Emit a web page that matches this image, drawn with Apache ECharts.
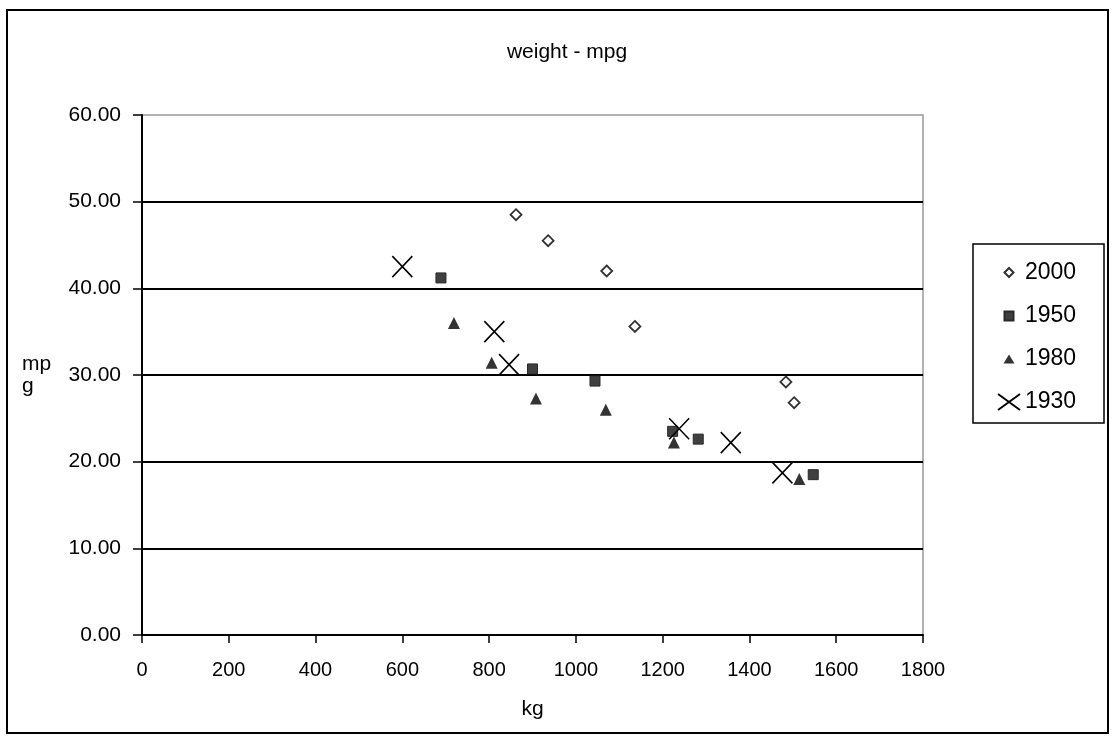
<!DOCTYPE html>
<html>
<head>
<meta charset="utf-8">
<script src="https://cdn.jsdelivr.net/npm/echarts@6/dist/echarts.min.js"></script>
<style>
html,body{margin:0;padding:0;background:#fff;}
#chart{width:1115px;height:736px;}
</style>
</head>
<body>
<div id="chart"></div>
<script>
// ---- data (weight kg, mpg) ----
var seriesNames = ['2000', '1950', '1980', '1930'];
var s2000 = [[862, 48.5], [936, 45.5], [1071, 42.0], [1136, 35.6], [1484, 29.2], [1503, 26.8]];
var s1950 = [[689, 41.2], [900, 30.7], [1044, 29.3], [1223, 23.5], [1282, 22.6], [1547, 18.5]];
var s1980 = [[719, 36.0], [806, 31.4], [908, 27.3], [1069, 26.0], [1226, 22.2], [1515, 18.0]];
var s1930 = [[600, 42.5], [812, 35.0], [846, 31.2], [1238, 23.8], [1357, 22.2], [1476, 18.7]];
var titleText = 'weight - mpg';
var xName = 'kg';
var yName = 'mp\ng';

var FONT = '"Liberation Sans", Arial, sans-serif';
var chart = echarts.init(document.getElementById('chart'), null, {renderer: 'canvas'});

var xIcon = 'path://M0,0L20,21M20,0L0,21';
var legendIcons = {
  '2000': 'path://M0,0M22,22M6.5,11L11,6.5L15.5,11L11,15.5Z',
  '1950': 'path://M0,0M22,22M6.5,6.5L15.5,6.5L15.5,15.5L6.5,15.5Z',
  '1980': 'path://M0,0M22,22M11,6.5L16.5,15.5L5.5,15.5Z',
  '1930': 'path://M0,0M22,22M0,3L22,19M22,3L0,19'
};

var option = {
  animation: false,
  backgroundColor: '#fff',
  title: {
    text: titleText,
    left: 562,
    textAlign: 'center',
    top: 37,
    textStyle: {fontFamily: FONT, fontSize: 21, fontWeight: 'normal', color: '#000'}
  },
  grid: {
    left: 142, right: 192, top: 115, bottom: 101,
    show: true, borderColor: '#999', borderWidth: 1.5, backgroundColor: 'transparent'
  },
  legend: {
    orient: 'vertical',
    left: 997,
    top: 260.5,
    padding: 0,
    itemWidth: 22,
    itemHeight: 22,
    itemGap: 19.5,
    textStyle: {fontFamily: FONT, fontSize: 23, color: '#000', lineHeight: 22},
    data: seriesNames.map(function (n) {
      return {name: n, icon: legendIcons[n]};
    })
  },
  xAxis: {
    type: 'value',
    min: 0, max: 1800, interval: 200,
    name: xName,
    nameLocation: 'middle',
    nameGap: 64,
    nameTextStyle: {fontFamily: FONT, fontSize: 21, color: '#000'},
    axisLine: {show: true, onZero: false, lineStyle: {color: '#000', width: 2}},
    axisTick: {show: true, length: 8, lineStyle: {color: '#000', width: 1.5}},
    axisLabel: {fontFamily: FONT, fontSize: 20, color: '#000', margin: 25,
      formatter: function (v) { return String(v); }},
    splitLine: {show: false}
  },
  yAxis: {
    type: 'value',
    min: 0, max: 60, interval: 10,
    name: yName,
    nameLocation: 'middle',
    nameRotate: 0,
    nameGap: 120,
    nameTextStyle: {fontFamily: FONT, fontSize: 21, color: '#000', align: 'left', verticalAlign: 'middle', lineHeight: 22},
    axisLine: {show: true, onZero: false, lineStyle: {color: '#000', width: 2}},
    axisTick: {show: true, length: 9, lineStyle: {color: '#000', width: 1.5}},
    axisLabel: {fontFamily: FONT, fontSize: 21, color: '#000', margin: 21,
      formatter: function (v) { return v.toFixed(2); }},
    splitLine: {show: true, showMaxLine: false, lineStyle: {color: '#000', width: 2}}
  },
  series: [
    {
      name: '2000', type: 'scatter', data: s2000,
      symbol: 'diamond', symbolSize: [11, 11],
      itemStyle: {color: '#fff', borderColor: '#333', borderWidth: 1.8, opacity: 1}
    },
    {
      name: '1950', type: 'scatter', data: s1950,
      symbol: 'rect', symbolSize: [10, 10],
      itemStyle: {color: '#404040', borderColor: '#2a2a2a', borderWidth: 1, opacity: 1}
    },
    {
      name: '1980', type: 'scatter', data: s1980,
      symbol: 'triangle', symbolSize: [12, 12],
      itemStyle: {color: '#333', opacity: 1}
    },
    {
      name: '1930', type: 'scatter', data: s1930,
      symbol: xIcon, symbolSize: [20, 21],
      itemStyle: {color: '#000', borderColor: '#000', borderWidth: 1.6, opacity: 1}
    }
  ],
  graphic: [
    {type: 'rect', silent: true, z: -1,
      shape: {x: 7, y: 10, width: 1101, height: 723},
      style: {fill: 'none', stroke: '#000', lineWidth: 2}},
    {type: 'rect', silent: true, z: -1,
      shape: {x: 973, y: 244, width: 131, height: 179},
      style: {fill: 'none', stroke: '#000', lineWidth: 1.5}}
  ]
};
chart.setOption(option);
</script>
</body>
</html>
